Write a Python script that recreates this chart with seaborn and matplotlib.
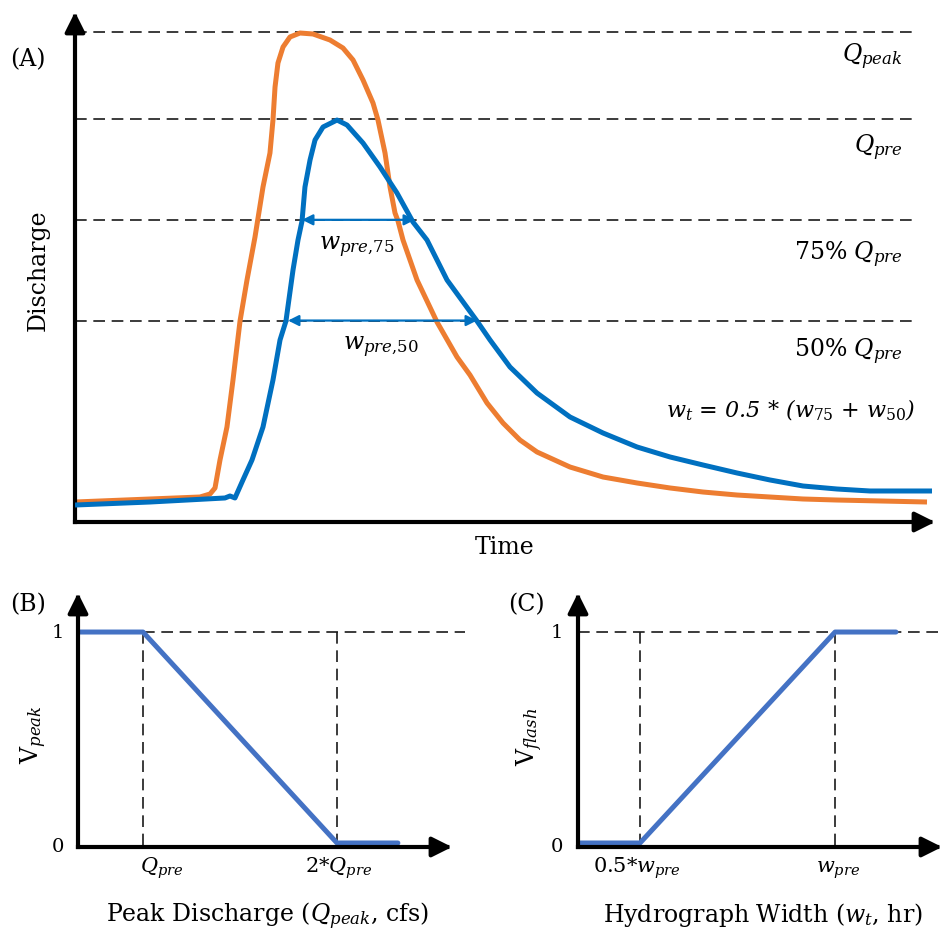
import numpy as np
import pandas as pd
import matplotlib
matplotlib.use("Agg")
import matplotlib.pyplot as plt
import seaborn as sns

# ---------------- data ----------------
# Panel A: hydrographs (time, discharge in arbitrary units 0-100)
time_orange = [0, 8.72, 14.53, 15.70, 16.28, 16.86, 17.67, 18.37, 19.19, 20.0,
               20.93, 21.86, 22.67, 23.02, 23.26, 23.60, 24.19, 25.0, 26.16, 27.67,
               29.65, 31.16, 32.33, 33.49, 34.65, 35.23, 36.05, 36.63, 37.21, 37.56,
               38.14, 39.77, 42.09, 44.42, 45.93, 47.91, 49.77, 51.74, 53.72, 57.56,
               61.40, 65.35, 69.19, 73.02, 76.98, 80.81, 84.65, 88.60, 99.07]
q_orange = [3.92, 4.51, 4.90, 5.49, 6.67, 12.16, 18.63, 27.84, 39.41, 47.45,
            55.88, 65.69, 72.35, 78.82, 85.29, 90.0, 93.14, 95.10, 95.88, 95.69,
            94.51, 92.94, 90.59, 86.67, 82.16, 78.82, 72.35, 65.69, 60.59, 59.02,
            55.29, 47.45, 39.22, 32.35, 28.82, 23.33, 19.41, 16.08, 13.73, 10.78,
            8.82, 7.65, 6.67, 5.88, 5.29, 4.90, 4.51, 4.31, 3.92]
time_blue = [0, 8.72, 17.44, 18.02, 18.60, 19.53, 20.58, 21.86, 23.02, 23.84,
             24.53, 25.35, 25.93, 26.40, 26.74, 27.33, 27.91, 28.84, 30.47, 31.63,
             33.49, 35.47, 37.44, 39.30, 40.93, 43.26, 46.74, 48.26, 50.58, 53.72,
             57.56, 61.40, 65.35, 69.19, 73.02, 76.98, 80.81, 84.65, 88.60, 92.44,
             99.65]
q_blue = [3.33, 3.92, 4.71, 5.10, 4.71, 8.24, 12.16, 18.63, 27.84, 35.69,
          39.41, 49.41, 55.29, 59.02, 65.69, 70.98, 74.90, 77.45, 78.82, 77.84,
          74.31, 69.61, 64.51, 58.82, 55.29, 47.45, 39.41, 35.69, 30.39, 25.29,
          20.59, 17.45, 14.71, 12.75, 11.18, 9.61, 8.24, 7.06, 6.47, 6.08,
          6.08]
q_peak = 96.1
q_pre = 79.0
fractions = [0.75, 0.50]
w75_span = [26.40, 39.53]   # time where the pre curve crosses 75% Qpre
w50_span = [24.77, 46.74]   # time where the pre curve crosses 50% Qpre

# Panel B: peak-discharge value function (x in units of Qpre)
vpeak_x = [0.665, 1.0, 2.0, 2.314]
vpeak_y = [1, 1, 0, 0]
# Panel C: hydrograph-width value function (x in units of wpre)
vflash_x = [0.341, 0.5, 1.0, 1.156]
vflash_y = [0, 0, 1, 1]

# ---------------- style ----------------
sns.set_theme(style="white")
plt.rcParams["font.family"] = ["DejaVu Serif"]
plt.rcParams["text.color"] = "black"
plt.rcParams["mathtext.fontset"] = "custom"
plt.rcParams["mathtext.rm"] = "DejaVu Serif"
plt.rcParams["mathtext.it"] = "DejaVu Serif:italic"
plt.rcParams["mathtext.bf"] = "DejaVu Serif:bold"

W, H = 944, 931
fig = plt.figure(figsize=(W / 100, H / 100), dpi=100)
fig.patch.set_facecolor("white")

def fx(px):
    return px / W

def fy(py):
    return 1 - py / H

def add_ax(left, top, right, bottom):
    return fig.add_axes([fx(left), fy(bottom), (right - left) / W, (bottom - top) / H])

def axis_arrows(ax):
    kw = dict(arrowstyle="-|>", lw=3, color="black", shrinkA=0, shrinkB=0,
              mutation_scale=30, capstyle="projecting")
    ax.annotate("", xy=(1, 0), xytext=(0, 0), xycoords="axes fraction",
                arrowprops=kw, annotation_clip=False)
    ax.annotate("", xy=(0, 1), xytext=(0, 0), xycoords="axes fraction",
                arrowprops=kw, annotation_clip=False)

DASH = (0, (7, 4))
DCOL = "#1a1a1a"
BLUE = "#0070C0"
ORANGE = "#ED7D31"
LINE = "#4472C4"

# ---------------- Panel A ----------------
axA = add_ax(75, 12, 935, 522)
axA.set_xlim(0, 100)
axA.set_ylim(0, 100)
axA.set_axis_off()
for lvl in [q_peak, q_pre] + [f * q_pre for f in fractions]:
    axA.axhline(lvl, xmin=0, xmax=0.974, color=DCOL, lw=1.2, ls=DASH, zorder=1)
dfo = pd.DataFrame({"t": time_orange, "q": q_orange})
dfb = pd.DataFrame({"t": time_blue, "q": q_blue})
sns.lineplot(data=dfo, x="t", y="q", ax=axA, color=ORANGE, lw=3.6, sort=False,
             estimator=None, zorder=3, solid_joinstyle="round", solid_capstyle="butt")
sns.lineplot(data=dfb, x="t", y="q", ax=axA, color=BLUE, lw=3.6, sort=False,
             estimator=None, zorder=4, solid_joinstyle="round", solid_capstyle="butt")
for span, f in [(w75_span, 0.75), (w50_span, 0.50)]:
    axA.annotate("", xy=(span[1], f * q_pre), xytext=(span[0], f * q_pre),
                 arrowprops=dict(arrowstyle="<|-|>", lw=1.6, color=BLUE, shrinkA=0,
                                 shrinkB=0, mutation_scale=16), zorder=5)
axis_arrows(axA)

fig.text(fx(28), fy(60), "(A)", ha="center", va="center", fontsize=17)
fig.text(fx(38), fy(270), "Discharge", ha="center", va="center", rotation=90, fontsize=17)
fig.text(fx(505), fy(548), "Time", ha="center", va="center", fontsize=17)
fig.text(fx(903), fy(62), r"$Q_{peak}$", ha="right", va="baseline", fontsize=17)
fig.text(fx(903), fy(153), r"$Q_{pre}$", ha="right", va="baseline", fontsize=17)
fig.text(fx(903), fy(260), r"$\mathit{75\%}\ Q_{pre}$", ha="right", va="baseline", fontsize=17)
fig.text(fx(903), fy(357), r"$\mathit{50\%}\ Q_{pre}$", ha="right", va="baseline", fontsize=17)
fig.text(fx(915), fy(417),
         r"$w_t$ = 0.5 * ($w_{\mathit{75}}$ + $w_{\mathit{50}}$)",
         ha="right", va="baseline", fontsize=16, fontstyle="italic")
fig.text(fx(357), fy(250), r"$w_{\mathit{pre{,}75}}$", ha="center", va="baseline", fontsize=17)
fig.text(fx(381), fy(350), r"$w_{\mathit{pre{,}50}}$", ha="center", va="baseline", fontsize=17)

# ---------------- Panel B ----------------
axB = add_ax(78, 593, 452, 847)
axB.set_xlim(0.665, 2.593)
axB.set_ylim(-0.019, 1.185)
axB.set_axis_off()
axB.plot([1, 2.66], [1, 1], color=DCOL, lw=1.2, ls=DASH, clip_on=False, zorder=1)
for xv in [1, 2]:
    axB.plot([xv, xv], [1, -0.019], color=DCOL, lw=1.2, ls=DASH, zorder=1)
sns.lineplot(x=vpeak_x, y=vpeak_y, ax=axB, color=LINE, lw=3.6, sort=False,
             estimator=None, zorder=3)
axis_arrows(axB)

fig.text(fx(28), fy(605), "(B)", ha="center", va="center", fontsize=17)
fig.text(fx(58), fy(633), "1", ha="center", va="center", fontsize=14)
fig.text(fx(58), fy(847), "0", ha="center", va="center", fontsize=14)
fig.text(fx(162), fy(873), r"$Q_{pre}$", ha="center", va="baseline", fontsize=15)
fig.text(fx(339), fy(873), r"$\mathit{2}$*$Q_{pre}$", ha="center", va="baseline", fontsize=15,
         fontstyle="italic")
fig.text(fx(267), fy(922), r"Peak Discharge ($Q_{peak}$, cfs)", ha="center", va="baseline",
         fontsize=17)
fig.text(fx(34), fy(735), r"$\mathrm{V}_{peak}$", ha="center", va="center", rotation=90,
         fontsize=17)

# ---------------- Panel C ----------------
axC = add_ax(578, 593, 942, 847)
axC.set_xlim(0.341, 1.274)
axC.set_ylim(-0.019, 1.185)
axC.set_axis_off()
axC.plot([0.341, 1.285], [1, 1], color=DCOL, lw=1.2, ls=DASH, clip_on=False, zorder=1)
for xv in [0.5, 1.0]:
    axC.plot([xv, xv], [1, -0.019], color=DCOL, lw=1.2, ls=DASH, zorder=1)
sns.lineplot(x=vflash_x, y=vflash_y, ax=axC, color=LINE, lw=3.6, sort=False,
             estimator=None, zorder=3)
axis_arrows(axC)

fig.text(fx(526), fy(605), "(C)", ha="center", va="center", fontsize=17)
fig.text(fx(557), fy(633), "1", ha="center", va="center", fontsize=14)
fig.text(fx(557), fy(847), "0", ha="center", va="center", fontsize=14)
fig.text(fx(637), fy(873), r"$\mathit{0.5}$*$w_{pre}$", ha="center", va="baseline", fontsize=15,
         fontstyle="italic")
fig.text(fx(838), fy(873), r"$w_{pre}$", ha="center", va="baseline", fontsize=15)
fig.text(fx(763), fy(922), r"Hydrograph Width ($w_t$, hr)", ha="center", va="baseline",
         fontsize=17)
fig.text(fx(530), fy(737), r"$\mathrm{V}_{flash}$", ha="center", va="center", rotation=90,
         fontsize=17)

fig.savefig("out.png", dpi=100, facecolor="white")
